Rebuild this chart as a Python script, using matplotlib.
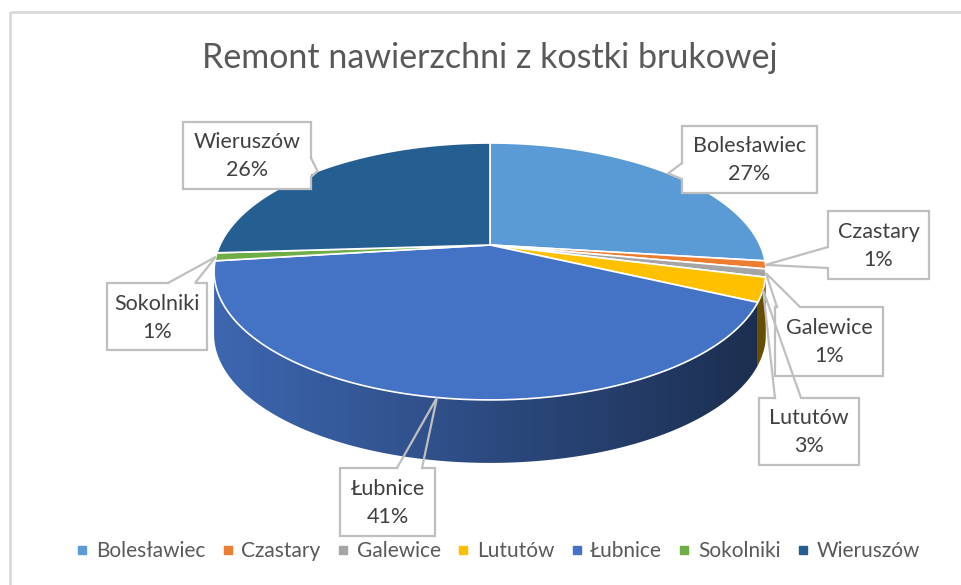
import numpy as np
import matplotlib.pyplot as plt
from matplotlib.patches import Polygon, Rectangle
from matplotlib.lines import Line2D
from matplotlib.colors import to_rgb

plt.rcParams['font.family'] = ['Lato', 'DejaVu Sans']

# data
title = "Remont nawierzchni z kostki brukowej"
categories = ["Bolesławiec", "Czastary", "Galewice", "Lututów", "Łubnice", "Sokolniki", "Wieruszów"]
values = [27, 1, 1, 3, 41, 1, 26]
colors = ["#5b9bd5", "#ed7d31", "#a5a5a5", "#ffc000", "#4472c4", "#70ad47", "#255e91"]

# label boxes (x0, y0, x1, y1), edge with the wedge, wedge start/end on that edge
boxes = {
    "Bolesławiec": ((682, 126, 817, 193), "left", 163, 179),
    "Czastary": ((828, 211, 929, 279), "left", 247, 268),
    "Galewice": ((775, 307, 883, 376), "top", 777, 800),
    "Lututów": ((759, 398, 859, 465), "top", 775, 801),
    "Łubnice": ((340, 468, 435, 536), "top", 397, 422),
    "Sokolniki": ((107, 283, 207, 350), "top", 168, 195),
    "Wieruszów": ((183, 122, 311, 189), "right", 158, 177),
}

# pie geometry in pixels (perspective ellipse)
CX, CY = 490, 245
A, B, P = 270, 123, 0.206
DEPTH = 63


def rim(theta):
    u, v = np.sin(theta), np.cos(theta)
    d = 1 + P * v
    return CX + A * u / d, CY - B * v / d


def shade(col, x):
    # side gets darker from left to right
    t = np.clip((x - 216) / (768 - 216), 0, 1)
    f = 0.9 - 0.5 * t
    return tuple(c * f for c in to_rgb(col))


fig = plt.figure(figsize=(9.62, 5.85), dpi=100)
ax = fig.add_axes([0, 0, 1, 1])
ax.axis('off')

ax.add_patch(Rectangle((10, 12), 1000, 1000, fill=False, edgecolor="#d9d9d9", lw=2))

total = sum(values)
bounds = np.concatenate([[0], np.cumsum(values)]) / total * 2 * np.pi
sil_r = np.arccos(-P)
sil_l = 2 * np.pi - sil_r

# sides, gradient image clipped to each visible side piece
for i, col in enumerate(colors):
    a0, a1 = max(bounds[i], sil_r), min(bounds[i + 1], sil_l)
    if a1 <= a0:
        continue
    th = np.linspace(a0, a1, 200)
    xs, ys = rim(th)
    pts = list(zip(xs, ys)) + list(zip(xs[::-1], ys[::-1] + DEPTH))
    side = Polygon(pts, closed=True, facecolor="none", edgecolor="none")
    ax.add_patch(side)
    gx = np.linspace(xs.min(), xs.max(), 300)
    grad = np.array([shade(col, x) for x in gx])[None, :, :]
    im = ax.imshow(grad, extent=(xs.min() - 1, xs.max() + 1, ys.max() + DEPTH + 1, ys.min() - 1),
                   aspect="auto", interpolation="bilinear")
    im.set_clip_path(side)

# top
for i, col in enumerate(colors):
    th = np.linspace(bounds[i], bounds[i + 1], max(int((bounds[i + 1] - bounds[i]) * 80), 3))
    xs, ys = rim(th)
    pts = [(CX, CY)] + list(zip(xs, ys))
    ax.add_patch(Polygon(pts, closed=True, facecolor=col, edgecolor="white", lw=1.2))

# callouts
for i, name in enumerate(categories):
    (x0, y0, x1, y1), edge, s0, s1 = boxes[name]
    mid = (bounds[i] + bounds[i + 1]) / 2
    tx, ty = rim(mid)
    if edge == "left":
        path = [(x0, s0), (tx, ty), (x0, s1), (x0, y1), (x1, y1), (x1, y0), (x0, y0), (x0, s0)]
    elif edge == "right":
        path = [(x1, s0), (tx, ty), (x1, s1), (x1, y1), (x0, y1), (x0, y0), (x1, y0), (x1, s0)]
    else:
        path = [(s0, y0), (tx, ty), (s1, y0), (x1, y0), (x1, y1), (x0, y1), (x0, y0), (s0, y0)]
    ax.add_patch(Rectangle((x0, y0), x1 - x0, y1 - y0, facecolor="white", edgecolor="none"))
    px, py = zip(*path)
    ax.plot(px, py, color="#bfbfbf", lw=1.6, solid_joinstyle="miter")
    pct = f"{round(100 * values[i] / total)}%"
    xm, ym = (x0 + x1) / 2, (y0 + y1) / 2
    ax.text(xm, ym - 13, name, ha="center", va="center", fontsize=15.5, color="#404040")
    ax.text(xm, ym + 15, pct, ha="center", va="center", fontsize=15.5, color="#404040")

ax.text(CX, 58, title, ha="center", va="center", fontsize=24.5, color="#595959")

handles = [Line2D([], [], marker="s", linestyle="none", markersize=6, color=c) for c in colors]
ax.legend(handles, categories, loc="center", bbox_to_anchor=(498 / 962, 1 - 551 / 585),
          ncol=len(categories), frameon=False, fontsize=15, handlelength=0.6,
          handletextpad=0.35, columnspacing=0.78, labelcolor="#595959")

ax.set_xlim(0, 962)
ax.set_ylim(585, 0)
fig.savefig("out.png", dpi=100)
